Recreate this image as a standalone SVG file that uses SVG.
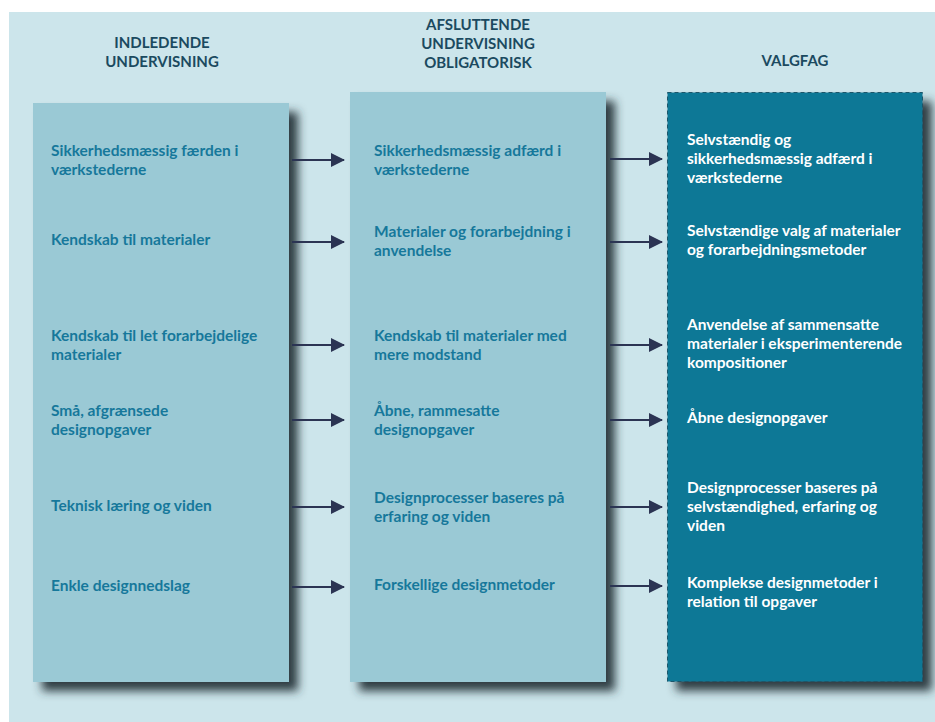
<svg xmlns="http://www.w3.org/2000/svg" width="935" height="722" viewBox="0 0 935 722">
<defs>
<filter id="sh" x="-10%" y="-10%" width="130%" height="130%">
<feGaussianBlur in="SourceAlpha" stdDeviation="5"/>
<feOffset dx="9" dy="9" result="b"/>
<feFlood flood-color="#27353b" flood-opacity="0.95"/>
<feComposite in2="b" operator="in"/>
<feMerge><feMergeNode/><feMergeNode in="SourceGraphic"/></feMerge>
</filter>
<marker id="ah" markerWidth="14" markerHeight="14" refX="13" refY="7" orient="auto" markerUnits="userSpaceOnUse">
<path d="M0,0 L14,7 L0,14 Z" fill="#2b3453"/>
</marker>
</defs>
<style>
.hd{font-family:Lato,"Liberation Sans",sans-serif;font-weight:bold;font-size:15px;fill:#1b4a60;text-anchor:middle}
.t{font-family:Lato,"Liberation Sans",sans-serif;font-weight:bold;font-size:15.5px;fill:#16789b}
.w{font-family:Lato,"Liberation Sans",sans-serif;font-weight:bold;font-size:15.5px;fill:#ffffff}
.lb{fill:#9ac9d5}
.ar{stroke:#2b3453;stroke-width:2;fill:none;marker-end:url(#ah)}
</style>
<rect x="0" y="0" width="935" height="722" fill="#ffffff"/>
<rect x="9" y="12" width="926" height="710" fill="#cce5eb"/>

<g id="header1"><text class="hd" x="162" y="48">INDLEDENDE</text><text class="hd" x="162" y="67">UNDERVISNING</text></g>
<g id="header2"><text class="hd" x="478" y="30">AFSLUTTENDE</text><text class="hd" x="478" y="49">UNDERVISNING</text><text class="hd" x="478" y="68">OBLIGATORISK</text></g>
<g id="header3"><text class="hd" x="795" y="66">VALGFAG</text></g>

<g id="col1">
<rect class="lb" x="33" y="103" width="256" height="579" filter="url(#sh)"/>
<text class="t" x="51" y="156">Sikkerhedsmæssig færden i</text>
<text class="t" x="51" y="175">værkstederne</text>
<text class="t" x="51" y="245">Kendskab til materialer</text>
<text class="t" x="51" y="341">Kendskab til let forarbejdelige</text>
<text class="t" x="51" y="360">materialer</text>
<text class="t" x="51" y="416">Små, afgrænsede</text>
<text class="t" x="51" y="435">designopgaver</text>
<text class="t" x="51" y="511">Teknisk læring og viden</text>
<text class="t" x="51" y="591">Enkle designnedslag</text>
</g>

<g id="col2">
<rect class="lb" x="350" y="92" width="256" height="590" filter="url(#sh)"/>
<text class="t" x="374" y="156">Sikkerhedsmæssig adfærd i</text>
<text class="t" x="374" y="175">værkstederne</text>
<text class="t" x="374" y="237">Materialer og forarbejdning i</text>
<text class="t" x="374" y="256">anvendelse</text>
<text class="t" x="374" y="341">Kendskab til materialer med</text>
<text class="t" x="374" y="360">mere modstand</text>
<text class="t" x="374" y="416">Åbne, rammesatte</text>
<text class="t" x="374" y="435">designopgaver</text>
<text class="t" x="374" y="503">Designprocesser baseres på</text>
<text class="t" x="374" y="522">erfaring og viden</text>
<text class="t" x="374" y="590">Forskellige designmetoder</text>
</g>

<g id="col3">
<rect x="667.5" y="92.5" width="255" height="589" fill="#0e7896" stroke="#1d566b" stroke-width="1" stroke-dasharray="4 3" filter="url(#sh)"/>
<text class="w" x="687" y="145">Selvstændig og</text>
<text class="w" x="687" y="164">sikkerhedsmæssig adfærd i</text>
<text class="w" x="687" y="183">værkstederne</text>
<text class="w" x="687" y="236">Selvstændige valg af materialer</text>
<text class="w" x="687" y="255">og forarbejdningsmetoder</text>
<text class="w" x="687" y="330">Anvendelse af sammensatte</text>
<text class="w" x="687" y="349">materialer i eksperimenterende</text>
<text class="w" x="687" y="368">kompositioner</text>
<text class="w" x="687" y="423">Åbne designopgaver</text>
<text class="w" x="687" y="493">Designprocesser baseres på</text>
<text class="w" x="687" y="512">selvstændighed, erfaring og</text>
<text class="w" x="687" y="531">viden</text>
<text class="w" x="687" y="588">Komplekse designmetoder i</text>
<text class="w" x="687" y="607">relation til opgaver</text>
</g>

<g id="connectors">
<line class="ar" x1="292" y1="160" x2="344" y2="160"/>
<line class="ar" x1="292" y1="242" x2="344" y2="242"/>
<line class="ar" x1="292" y1="345" x2="344" y2="345"/>
<line class="ar" x1="292" y1="420" x2="344" y2="420"/>
<line class="ar" x1="292" y1="507" x2="344" y2="507"/>
<line class="ar" x1="292" y1="587" x2="344" y2="587"/>
<line class="ar" x1="610" y1="159" x2="662" y2="159"/>
<line class="ar" x1="610" y1="242" x2="662" y2="242"/>
<line class="ar" x1="610" y1="345" x2="662" y2="345"/>
<line class="ar" x1="610" y1="420" x2="662" y2="420"/>
<line class="ar" x1="610" y1="507" x2="662" y2="507"/>
<line class="ar" x1="610" y1="586" x2="662" y2="586"/>
</g>
</svg>
